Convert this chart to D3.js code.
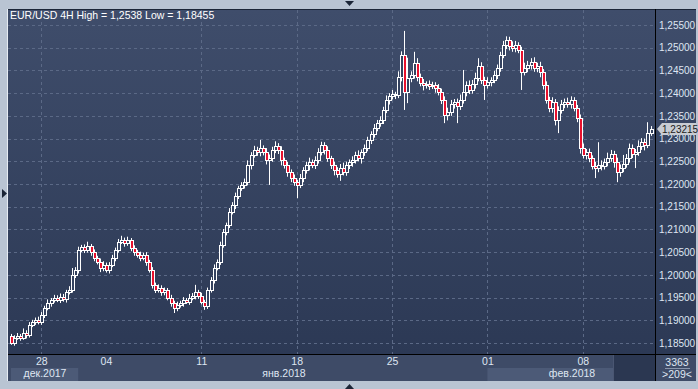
<!DOCTYPE html>
<html><head><meta charset="utf-8">
<script src="https://cdnjs.cloudflare.com/ajax/libs/d3/7.8.5/d3.min.js"></script>
<style>
html,body{margin:0;padding:0;background:#b9c4d3;}
svg{display:block;}
text{font-family:"Liberation Sans",Arial,sans-serif;}
</style></head>
<body>
<script>
// ---- data (prices in 1/10000) ----
const title = "EUR/USD 4H High = 1,2538 Low = 1,18455";
const firstOpen = 11866;
const closes = [
11850,11862,11866,11862,11873,11868,11890,11897,11901,11896,
11912,11927,11938,11945,11950,11945,11952,11947,11962,11967,
12000,12011,12055,12061,12055,12064,12050,12037,12029,12015,
12022,12011,12022,12037,12055,12073,12077,12070,12077,12059,
12050,12044,12037,12044,12029,12011,11978,11967,11971,11962,
11967,11950,11938,11927,11934,11938,11945,11941,11950,11954,
11962,11954,11941,11932,11967,11989,12015,12029,12066,12095,
12110,12139,12154,12174,12191,12198,12204,12242,12264,12275,
12270,12279,12270,12253,12257,12275,12284,12275,12253,12242,
12226,12213,12204,12198,12213,12231,12242,12248,12242,12253,
12270,12286,12275,12257,12242,12231,12222,12235,12226,12242,
12248,12253,12264,12257,12270,12279,12297,12310,12323,12334,
12341,12363,12385,12394,12398,12396,12436,12484,12403,12433,
12440,12467,12436,12422,12418,12420,12416,12418,12411,12403,
12385,12352,12358,12376,12381,12372,12385,12403,12418,12407,
12420,12433,12460,12429,12418,12425,12429,12440,12455,12484,
12506,12517,12504,12499,12506,12495,12447,12455,12462,12469,
12455,12460,12447,12418,12385,12367,12381,12341,12363,12376,
12381,12376,12385,12367,12345,12279,12264,12270,12257,12240,
12235,12242,12240,12248,12257,12266,12248,12226,12235,12244,
12257,12279,12266,12270,12284,12292,12286,12312,12321.5];
const wickUp = [
4,5,6,4,9,5,6,4,5,7, 6,5,8,4,6,5,7,6,5,8, 15,6,7,5,6,9,4,6,5,7,
8,5,6,7,5,6,9,5,7,4, 6,5,7,5,6,4,6,5,8,6, 5,4,6,5,7,5,6,4,8,6,
16,5,6,4,5,6,8,5,7,6, 5,8,6,7,5,6,8,10,6,9, 7,18,6,9,8,7,10,6,8,5,
7,6,8,5,9,6,7,10,6,8, 9,7,6,8,5,7,6,9,12,7, 6,8,7,10,6,8,7,6,9,7,
8,7,10,6,9,5,12,8,53,45, 8,24,10,7,9,6,8,7,6,9, 7,8,10,9,6,7,12,48,8,10,
9,12,17,8,7,10,6,9,8,7, 9,8,7,10,9,6,7,12,9,8, 10,7,9,6,8,7,10,6,8,9,
7,9,8,6,7,8,10,7,8,6, 9,50,10,8,12,9,7,10,8,20, 9,10,8,7,12,9,8,24,6];
const wickDn = [
4,6,5,7,5,8,6,5,7,5, 6,7,5,8,6,5,7,6,8,5, 6,7,8,5,7,6,8,7,6,9,
7,6,8,5,7,6,5,8,6,7, 8,6,7,5,9,6,8,7,6,8, 7,6,8,11,7,6,8,5,7,6,
8,7,6,9,7,6,8,5,7,6, 8,7,6,9,7,6,8,7,10,6, 8,9,7,10,55,8,7,9,12,8,
10,9,8,29,7,9,8,12,7,9, 8,7,10,8,9,12,8,15,7,8, 9,10,8,7,12,8,7,9,8,7,
8,9,7,10,8,9,7,10,40,25, 9,8,10,7,12,8,9,7,10,8, 9,18,12,8,10,38,9,8,10,9,
8,10,7,9,33,8,10,7,9,8, 7,9,10,8,9,7,40,8,9,10, 8,9,12,10,8,9,10,12,29,8,
9,8,10,7,9,12,8,10,9,8, 22,9,10,8,9,8,12,22,10,9, 8,10,9,31,8,9,12,7,6];
const yTicks = [1.185,1.19,1.195,1.20,1.205,1.21,1.215,1.22,1.225,1.23,1.235,1.24,1.245,1.25,1.255];
const dayLabels = ["28","04","11","18","25","01","08"];
const dayIdx = [10,31,62,93,124,155,186];
const gridIdx = [10,62,93,124,155,186];
const months = ["дек.2017","янв.2018","фев.2018"];
const monthStart = [0,22,155];
const monthEnd = [22,155,208];
const lastPrice = "1,23215";
const barsInfo = ["3363",">209<"];

// ---- build ----
const W=698,H=389;
const P={l:8,t:9,r:655,b:354,panelR:696,bandB:381};
const svg=d3.select("body").append("svg").attr("width",W).attr("height",H);
const defs=svg.append("defs");
const g1=defs.append("linearGradient").attr("id","bg").attr("x1",0).attr("y1",0).attr("x2",0).attr("y2",1);
g1.append("stop").attr("offset","0%").attr("stop-color","#3f4d6b");
g1.append("stop").attr("offset","100%").attr("stop-color","#2c3955");

svg.append("rect").attr("width",W).attr("height",H).attr("fill","#b9c4d3");
svg.append("line").attr("x1",P.l-0.5).attr("x2",P.l-0.5).attr("y1",P.t).attr("y2",P.bandB).attr("stroke","#e6ebf2");
svg.append("rect").attr("x",P.l).attr("y",P.t).attr("width",P.panelR-P.l).attr("height",P.b-P.t).attr("fill","url(#bg)");
svg.append("line").attr("x1",P.l).attr("x2",P.panelR).attr("y1",P.t+0.5).attr("y2",P.t+0.5).attr("stroke","#1c2638");
// time band
svg.append("rect").attr("x",P.l).attr("y",P.b).attr("width",P.panelR-P.l).attr("height",P.bandB-P.b).attr("fill","#3e4b67");

const data = closes.map((c,i)=>{
  const o = i===0?firstOpen:closes[i-1];
  return {i, o:o/10000, c:c/10000, h:(Math.max(o,c)+wickUp[i])/10000, l:(Math.min(o,c)-wickDn[i])/10000};
});

const x=d3.scaleLinear().domain([0,closes.length-1]).range([10.5,650.5]);
const y=d3.scaleLinear().domain([1.185,1.255]).range([343,25]);

// grid
const grid=svg.append("g");
grid.selectAll("line.h").data(yTicks).join("line")
 .attr("x1",P.l).attr("x2",P.r).attr("y1",d=>Math.round(y(d))+0.5).attr("y2",d=>Math.round(y(d))+0.5)
 .attr("stroke","#5b6986").attr("stroke-dasharray","3,3");
grid.selectAll("line.v").data(gridIdx).join("line")
 .attr("x1",d=>Math.round(x(d))+0.5).attr("x2",d=>Math.round(x(d))+0.5).attr("y1",P.t+1).attr("y2",P.b)
 .attr("stroke","#5b6986").attr("stroke-dasharray","3,3");

// candles
const cg=svg.append("g");
data.forEach(d=>{
  const cx=Math.round(x(d.i))+0.5;
  const top=Math.round(Math.min(y(d.o),y(d.c))), bot=Math.round(Math.max(y(d.o),y(d.c)));
  const up=d.c>=d.o;
  cg.append("line").attr("x1",cx).attr("x2",cx).attr("y1",y(d.h)).attr("y2",bot).attr("stroke","#fff");
  cg.append("line").attr("x1",cx).attr("x2",cx).attr("y1",bot).attr("y2",y(d.l)).attr("stroke","#fff");
  cg.append("rect").attr("x",cx-1).attr("y",top+0.5).attr("width",3)
    .attr("height",Math.max(1,bot-top))
    .attr("fill",up?"#34425f":"#e8112d").attr("stroke","#fff").attr("stroke-width",1);
});

// title
svg.append("text").attr("x",10).attr("y",19).attr("fill","#fff").attr("font-size",10.5).text(title);

// axis lines
svg.append("line").attr("x1",P.r+0.5).attr("x2",P.r+0.5).attr("y1",P.t).attr("y2",P.bandB).attr("stroke","#000");
svg.append("line").attr("x1",P.l).attr("x2",P.panelR).attr("y1",P.b+0.5).attr("y2",P.b+0.5).attr("stroke","#000");

// y labels
const yAxis=d3.axisRight(y).tickValues(yTicks).tickSize(0).tickFormat(d=>d3.format(".5f")(d).replace(".",","));
const ya=svg.append("g").attr("transform",`translate(${P.r+1},0)`).call(yAxis);
ya.select(".domain").remove();
ya.selectAll("text").attr("x",3).attr("fill","#dfe6f2").attr("font-size",10).attr("font-family","Liberation Sans, Arial");

// last price tag
const ly=Math.round(y(closes[closes.length-1]/10000));
svg.append("path").attr("d",`M${P.r+2},${ly} L${P.r+7},${ly-6} L${P.panelR},${ly-6} L${P.panelR},${ly+6} L${P.r+7},${ly+6} Z`).attr("fill","#c8ccd3");
svg.append("text").attr("x",P.r+7).attr("y",ly+4).attr("fill","#1b1b1b").attr("font-size",10).text(lastPrice);

// month boxes
svg.append("rect").attr("x",11).attr("y",368).attr("width",x(monthEnd[0])-11).attr("height",P.bandB-368).attr("fill","#4c5a77");
svg.append("rect").attr("x",x(monthStart[2])).attr("y",368).attr("width",P.r-x(monthStart[2])).attr("height",P.bandB-368).attr("fill","#4c5a77");
svg.append("rect").attr("x",613).attr("y",P.b+1).attr("width",P.r-613).attr("height",P.bandB-P.b-1).attr("fill","#2b3751");
svg.append("line").attr("x1",613.5).attr("x2",613.5).attr("y1",P.b+1).attr("y2",P.bandB).attr("stroke","#4a5672");
const monthCx=[45,284,572];
svg.selectAll("text.m").data(months).join("text").attr("x",(d,i)=>monthCx[i]).attr("y",377)
 .attr("text-anchor","middle").attr("fill","#dfe6f2").attr("font-size",10.5).text(d=>d);
// day labels
const xAxis=d3.axisBottom(x).tickValues(dayIdx).tickSize(0).tickFormat((d,i)=>dayLabels[i]);
const xa=svg.append("g").attr("transform",`translate(0,${P.b})`).call(xAxis);
xa.select(".domain").remove();
xa.selectAll("text").attr("y",4).attr("dy","0.71em").attr("fill","#dfe6f2").attr("font-size",10.5).attr("font-family","Liberation Sans, Arial");

// bars info box
svg.append("text").attr("x",677).attr("y",366).attr("text-anchor","middle").attr("fill","#dfe6f2").attr("font-size",10.5).text(barsInfo[0]);
svg.append("line").attr("x1",665).attr("x2",690).attr("y1",368.5).attr("y2",368.5).attr("stroke","#8a96ad");
svg.append("text").attr("x",677).attr("y",378).attr("text-anchor","middle").attr("fill","#dfe6f2").attr("font-size",10.5).text(barsInfo[1]);

// frame arrows
svg.append("path").attr("d","M345,1 L354,1 L349.5,6 Z").attr("fill","#1a2436");
svg.append("path").attr("d","M2,189 L7,193.5 L2,198 Z").attr("fill","#1a2436");
svg.append("path").attr("d","M345,389 L354,389 L349.5,384 Z").attr("fill","#1a2436");
</script>
</body></html>
